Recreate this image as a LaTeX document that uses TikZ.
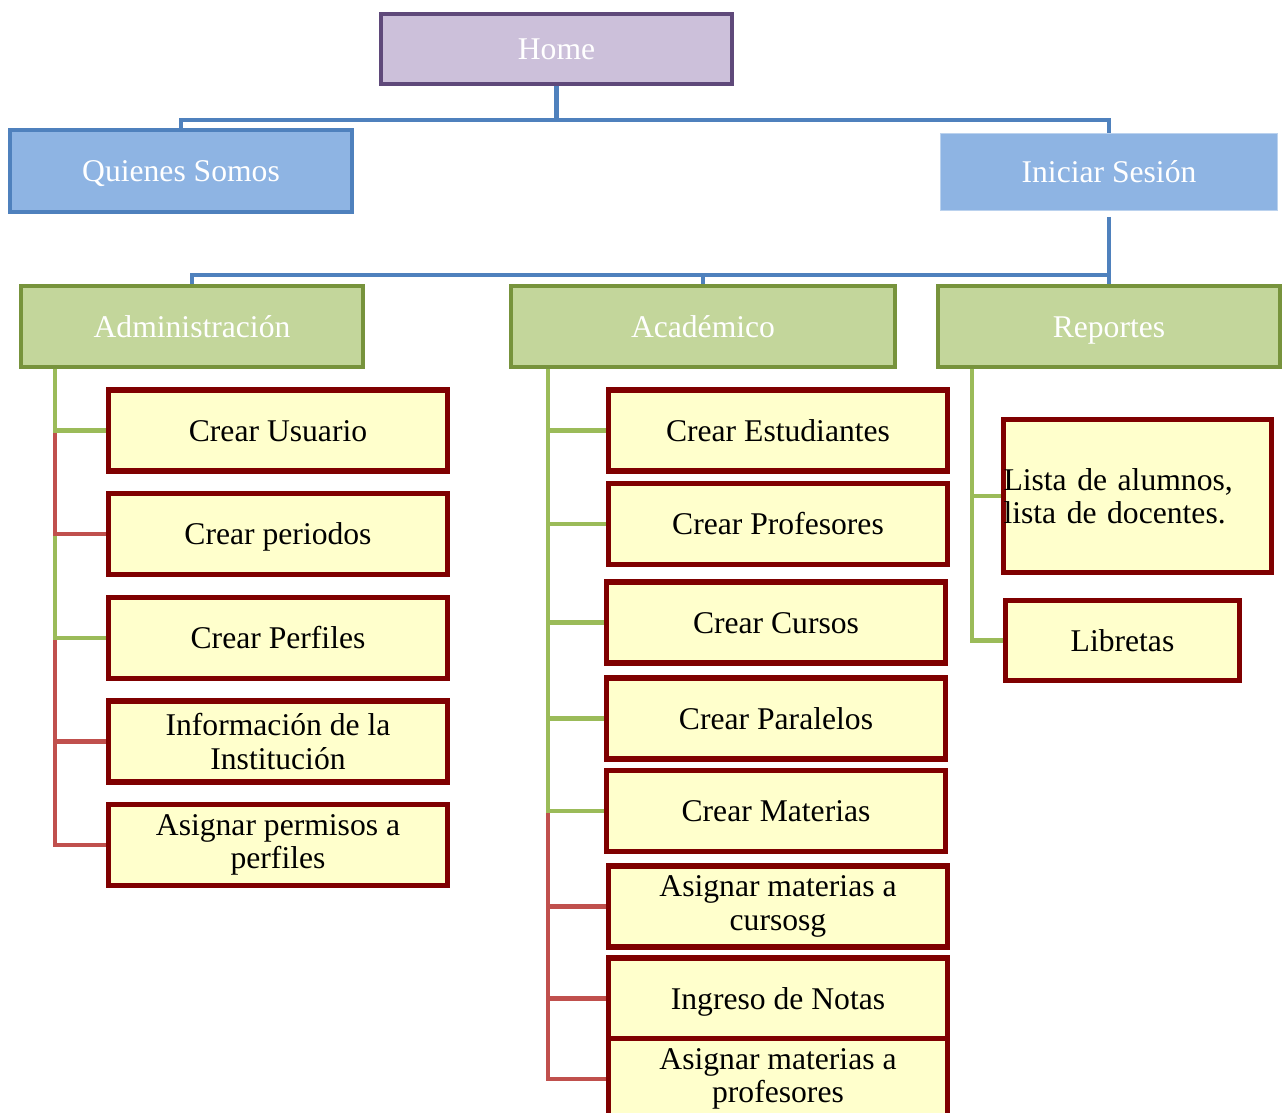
\documentclass[tikz,border=0pt]{standalone}
\usepackage{fontspec}
\setmainfont{Liberation Serif}
\usepackage{tikz}
\usetikzlibrary{backgrounds}

\definecolor{lilafill}{HTML}{CCC0DA}
\definecolor{lilarand}{HTML}{5F497A}
\definecolor{blaufill}{HTML}{8EB4E3}
\definecolor{blaurand}{HTML}{4F81BD}
\definecolor{gruenfill}{HTML}{C3D69B}
\definecolor{gruenrand}{HTML}{77933C}
\definecolor{gelbfill}{HTML}{FFFFCC}
\definecolor{rotrand}{HTML}{7F0000}
\definecolor{gruenlinie}{HTML}{9BBB59}
\definecolor{rotlinie}{HTML}{C0504D}

\begin{document}
\begin{tikzpicture}
		[
		x=0.02cm, y=-0.02cm, font=\fontsize{18}{19}\selectfont,
		zeile/.style={text height=12.5pt, text depth=0.5pt},
		kopf/.style={draw, line width=0.08cm, text=white, inner sep=0pt, zeile},
		kind/.style={draw=rotrand, fill=gelbfill, line width=0.11cm, inner sep=0pt, align=center, minimum width=6.78cm, minimum height=1.62cm},
		blaulinie/.style={draw=blaurand, line width=0.09cm},
		gruen/.style={draw=gruenlinie, line width=0.09cm},
		rot/.style={draw=rotlinie, line width=0.09cm}
		]
		
		%Rahmen
		\useasboundingbox (0,0) rectangle (1286,1113);
		
		%Obere Ebene
		\node [kopf, draw=lilarand, fill=lilafill, minimum width=7.02cm, minimum height=1.40cm] (home) at (556.5,49) {Home};
		\node [kopf, draw=blaurand, fill=blaufill, minimum width=6.84cm, minimum height=1.64cm] (quienes) at (181,171) {Quienes Somos};
		\node [kopf, draw=blaufill!60!white, line width=0.02cm, fill=blaufill, minimum width=6.74cm, minimum height=1.54cm] (sesion) at (1109,172) {Iniciar Sesión};
		
		%Bereiche
		\node [kopf, draw=gruenrand, fill=gruenfill, minimum width=6.84cm, minimum height=1.62cm] (admin) at (192,326.5) {Administración};
		\node [kopf, draw=gruenrand, fill=gruenfill, minimum width=7.68cm, minimum height=1.62cm] (acad) at (703,326.5) {Académico};
		\node [kopf, draw=gruenrand, fill=gruenfill, minimum width=6.84cm, minimum height=1.62cm] (reportes) at (1109,326.5) {Reportes};
		
		%Administración
		\node [kind, zeile] (usuario) at (278,430.5) {Crear Usuario};
		\node [kind, zeile] (periodos) at (278,534) {Crear periodos};
		\node [kind, zeile] (perfiles) at (278,638) {Crear Perfiles};
		\node [kind] (info) at (278,741.5) {Información de la\\Institución};
		\node [kind] (permisos) at (278,845) {Asignar permisos a\\perfiles};
		
		%Académico
		\node [kind, zeile] (estud) at (778,430.5) {Crear Estudiantes};
		\node [kind, zeile] (profes) at (778,524) {Crear Profesores};
		\node [kind, zeile] (cursos) at (776,622.5) {Crear Cursos};
		\node [kind, zeile] (paral) at (776,718.5) {Crear Paralelos};
		\node [kind, zeile] (mater) at (776,811) {Crear Materias};
		\node [kind] (asigcur) at (778,906.5) {Asignar materias a\\cursosg};
		\node [kind, zeile] (notas) at (778,998.5) {Ingreso de Notas};
		\node [kind] (asigprof) at (778,1079) {Asignar materias a\\profesores};
		
		%Reportes
		\node [kind, align=left, text width=5.36cm, minimum width=5.36cm, minimum height=3.06cm] (lista) at (1137.5,496) {Lista de alumnos,\\lista de docentes.};
		\node [kind, zeile, minimum width=4.68cm, minimum height=1.60cm] (libretas) at (1122.5,640.5) {Libretas};
		
		\begin{scope}[on background layer]
		%Verbindungen oben
		\coordinate (bus1) at (556.5,120);
		\draw [blaulinie] (home.south) -- (bus1) -| (quienes.north);
		\draw [blaulinie] (bus1) -| (sesion.north);
		\coordinate (bus2) at (1109,275);
		\draw [blaulinie] ([yshift=-0.12cm]sesion.south) -- (bus2) -| (admin.north);
		\draw [blaulinie] (bus2) -| (acad.north);
		\draw [blaulinie] (bus2) -- (reportes.north);
		
		%Verbindungen Administración (rückwärts)
		\coordinate (admtrunk) at (55,369);
		\draw [rot] (admtrunk) |- (permisos.west);
		\draw [rot] (admtrunk) |- (info.west);
		\draw [gruen] (admtrunk) |- (perfiles.west);
		\draw [rot] (admtrunk) |- (periodos.west);
		\draw [gruen] (admtrunk) |- (usuario.west);
		
		%Verbindungen Académico (rückwärts)
		\coordinate (acadtrunk) at (548,369);
		\draw [rot] (acadtrunk) |- (asigprof.west);
		\draw [rot] (acadtrunk) |- (notas.west);
		\draw [rot] (acadtrunk) |- (asigcur.west);
		\draw [gruen] (acadtrunk) |- (mater.west);
		\draw [gruen] (acadtrunk) |- (paral.west);
		\draw [gruen] (acadtrunk) |- (cursos.west);
		\draw [gruen] (acadtrunk) |- (profes.west);
		\draw [gruen] (acadtrunk) |- (estud.west);
		
		%Verbindungen Reportes
		\coordinate (reptrunk) at (972,369);
		\draw [gruen] (reptrunk) |- (libretas.west);
		\draw [gruen] (reptrunk) |- (lista.west);
		\end{scope}
	\end{tikzpicture}
\end{document}
